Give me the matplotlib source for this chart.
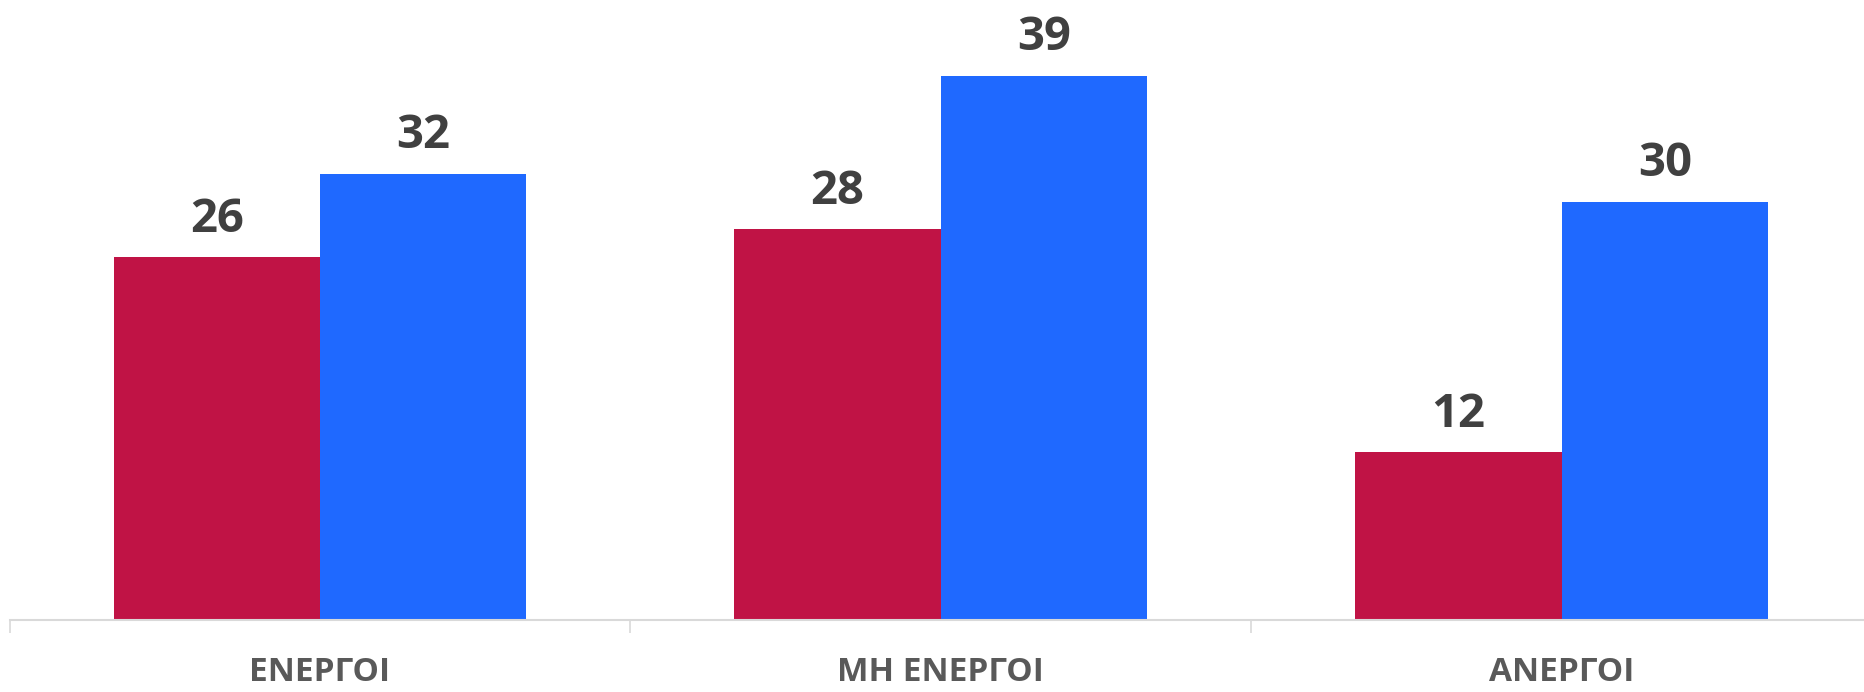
import matplotlib.pyplot as plt
import numpy as np

plt.rcParams['font.family'] = ['Open Sans', 'DejaVu Sans']

categories = ["ΕΝΕΡΓΟΙ", "ΜΗ ΕΝΕΡΓΟΙ", "ΑΝΕΡΓΟΙ"]
series_red = [26, 28, 12]
series_blue = [32, 39, 30]

red = "#C01345"
blue = "#1F69FF"

W, H = 1865, 692
fig = plt.figure(figsize=(W / 100, H / 100), dpi=100)

# plot area in pixels: baseline at y=620, 13.94 px per unit
base_px = 619.7
left_px = 9.5
cat_px = 620.9
ax = fig.add_axes([left_px / W, (H - base_px) / H, 3 * cat_px / W, base_px / H])

x = np.arange(len(categories))
bw = 0.3325
ax.bar(x - bw / 2, series_red, bw, color=red)
ax.bar(x + bw / 2, series_blue, bw, color=blue)

for xs, vals in ((x - bw / 2, series_red), (x + bw / 2, series_blue)):
    for xi, v in zip(xs, vals):
        ax.annotate(str(v), (xi, v), xytext=(0, 18.5), textcoords="offset points",
                    ha="center", va="baseline", fontsize=34, fontweight="bold",
                    color="#404040")

ax.set_xlim(-0.5, 2.5)
ax.set_ylim(0, base_px / 13.94)

for s in ("top", "right", "left"):
    ax.spines[s].set_visible(False)
ax.spines["bottom"].set_color("#D9D9D9")
ax.spines["bottom"].set_linewidth(1.5)
ax.set_yticks([])

ax.set_xticks(x)
ax.set_xticklabels(categories, fontsize=24, fontweight="bold", color="#595959")
ax.tick_params(axis="x", which="major", length=0, pad=26)
ax.set_xticks([-0.5, 0.5, 1.5, 2.5], minor=True)
ax.tick_params(axis="x", which="minor", length=9, width=1.2, color="#D9D9D9")

fig.savefig("out.png", dpi=100)
